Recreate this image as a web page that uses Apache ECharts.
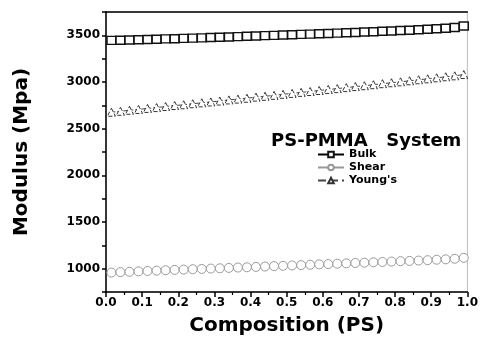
<!DOCTYPE html>
<html>
<head>
<meta charset="utf-8">
<script src="https://cdn.jsdelivr.net/npm/echarts@6/dist/echarts.min.js"></script>
<style>
  html, body { margin: 0; padding: 0; background: #fff; }
  #chart { width: 481px; height: 343px; }
</style>
</head>
<body>
<div id="chart"></div>
<script>
// composition (PS fraction) of each measured point
const composition = [0.015, 0.04, 0.065, 0.09, 0.115, 0.14, 0.165, 0.19, 0.215, 0.24,
  0.265, 0.29, 0.315, 0.34, 0.365, 0.39, 0.415, 0.44, 0.465, 0.49,
  0.515, 0.54, 0.565, 0.59, 0.615, 0.64, 0.665, 0.69, 0.715, 0.74,
  0.765, 0.79, 0.815, 0.84, 0.865, 0.89, 0.915, 0.94, 0.965, 0.99]
const bulk = [3446, 3448, 3450, 3452, 3455, 3458, 3462, 3464, 3467, 3470,
  3473, 3476, 3480, 3483, 3486, 3490, 3493, 3497, 3500, 3503,
  3507, 3510, 3513, 3517, 3520, 3524, 3527, 3531, 3535, 3539,
  3543, 3547, 3551, 3555, 3560, 3565, 3570, 3576, 3584, 3600]
const shear = [958, 963, 966, 971, 975, 979, 983, 987, 990, 994,
  997, 1001, 1004, 1008, 1012, 1015, 1019, 1023, 1027, 1031,
  1034, 1038, 1042, 1046, 1049, 1053, 1057, 1061, 1064, 1068,
  1072, 1076, 1080, 1083, 1087, 1091, 1096, 1100, 1106, 1116]
const youngs = [2676, 2686, 2697, 2706, 2717, 2726, 2737, 2748, 2756, 2767,
  2777, 2786, 2796, 2808, 2817, 2826, 2838, 2847, 2857, 2868,
  2878, 2889, 2898, 2909, 2920, 2929, 2940, 2951, 2960, 2971,
  2982, 2992, 3002, 3013, 3024, 3034, 3045, 3056, 3066, 3080]
const yTicks = [1000, 1500, 2000, 2500, 3000, 3500]

const FONT = 'DejaVu Sans'

function pairs(vals) {
  return composition.map((x, i) => [x, vals[i]])
}

let chart = echarts.init(document.getElementById('chart'))
let option = {
  animation: false,
  title: {
    text: 'PS-PMMA   System',
    left: 266,
    top: 127,
    textStyle: { fontFamily: FONT, fontSize: 18, fontWeight: 'bold', color: '#000' }
  },
  legend: {
    orient: 'vertical',
    left: 312,
    top: 143,
    itemWidth: 26,
    itemHeight: 7,
    itemGap: 0,
    textStyle: { fontFamily: FONT, fontSize: 11, fontWeight: 'bold', color: '#000', lineHeight: 13 },
    data: ['Bulk', 'Shear', "Young's"]
  },
  grid: {
    left: 106,
    right: 13,
    top: 12,
    bottom: 51,
    show: true,
    borderColor: '#bbb',
    borderWidth: 1
  },
  xAxis: [
    {
      type: 'value',
      min: 0,
      max: 1,
      interval: 0.1,
      name: 'Composition (PS)',
      nameLocation: 'middle',
      nameGap: 24,
      nameTextStyle: { fontFamily: FONT, fontSize: 20, fontWeight: 'bold', color: '#000' },
      axisLine: { lineStyle: { color: '#000', width: 1.5 } },
      axisTick: { length: 5, lineStyle: { color: '#000', width: 1.5 } },
      minorTick: { show: true, splitNumber: 2, length: 3, lineStyle: { color: '#000', width: 1.2 } },
      splitLine: { show: false },
      axisLabel: {
        margin: 5,
        fontFamily: FONT,
        fontSize: 12,
        fontWeight: 'bold',
        color: '#000',
        formatter: v => v.toFixed(1)
      }
    },
    {
      type: 'value',
      position: 'top',
      min: 0,
      max: 1,
      axisLine: { show: true, lineStyle: { color: '#000', width: 1.5 } },
      axisTick: { show: false },
      axisLabel: { show: false },
      splitLine: { show: false }
    }
  ],
  yAxis: {
    type: 'value',
    min: 750,
    max: 3750,
    interval: 250,
    name: 'Modulus (Mpa)',
    nameLocation: 'middle',
    nameGap: 74,
    nameTextStyle: { fontFamily: FONT, fontSize: 20, fontWeight: 'bold', color: '#000' },
    axisLine: { show: true, lineStyle: { color: '#000', width: 1.5 } },
    axisTick: { length: 4, lineStyle: { color: '#000', width: 1.5 } },
    splitLine: { show: false },
    axisLabel: {
      margin: 6,
      fontFamily: FONT,
      fontSize: 12,
      fontWeight: 'bold',
      color: '#000',
      formatter: v => (yTicks.includes(v) ? String(v) : '')
    }
  },
  series: [
    {
      name: 'Bulk',
      type: 'line',
      data: pairs(bulk),
      symbol: 'rect',
      symbolSize: [9, 8],
      lineStyle: { color: '#000', width: 1.5 },
      itemStyle: { color: '#fff', borderColor: '#111', borderWidth: 1.5 }
    },
    {
      name: 'Shear',
      type: 'line',
      data: pairs(shear),
      symbol: 'circle',
      symbolSize: 9,
      lineStyle: { color: '#999', width: 1 },
      itemStyle: { color: '#fff', borderColor: '#999', borderWidth: 1 }
    },
    {
      name: "Young's",
      type: 'line',
      data: pairs(youngs),
      symbol: 'triangle',
      symbolSize: 8,
      lineStyle: { color: '#444', width: 1, type: 'dashed' },
      itemStyle: { color: '#fff', borderColor: '#333', borderWidth: 1, borderType: 'dashed' }
    }
  ]
}
chart.setOption(option)
</script>
</body>
</html>
